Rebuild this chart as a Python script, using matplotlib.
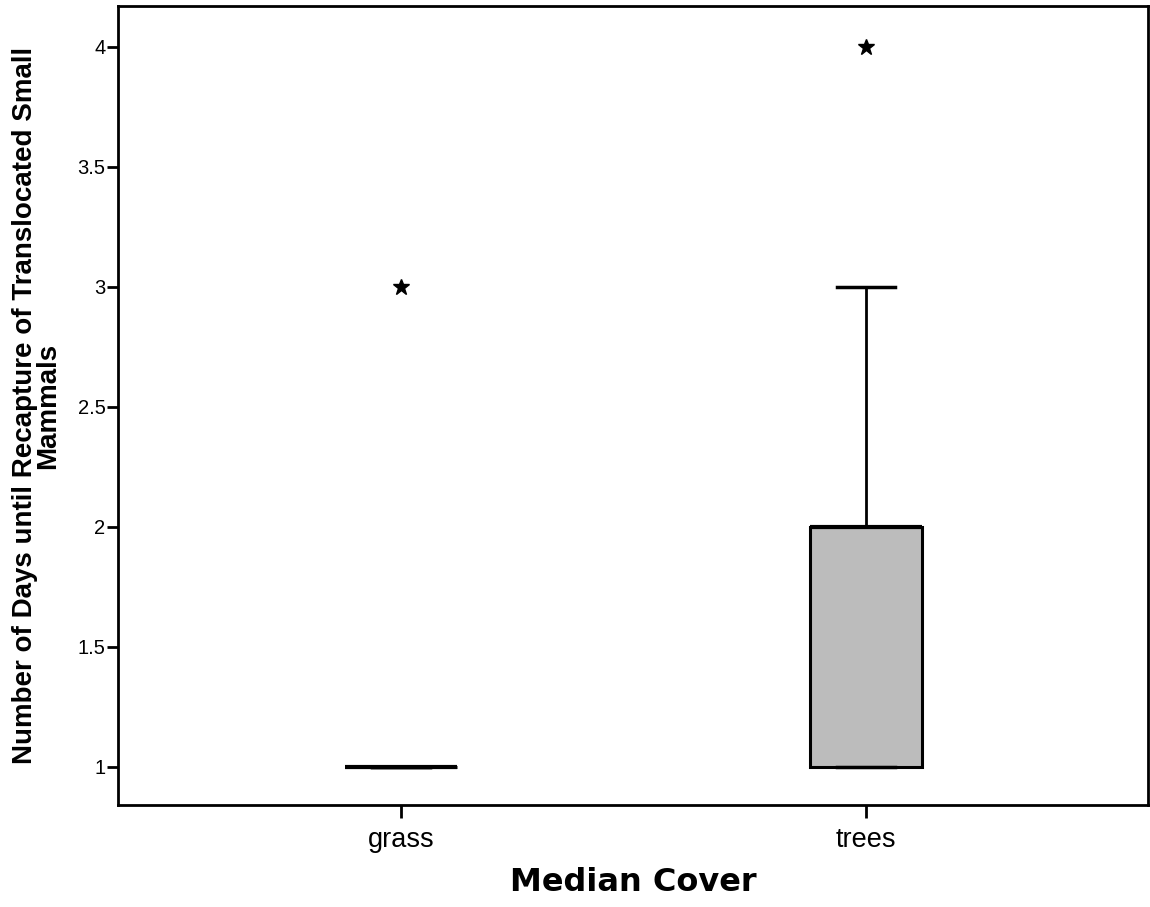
import matplotlib
matplotlib.use("Agg")
import matplotlib.pyplot as plt

categories = ["grass", "trees"]
q1 = [1.0, 1.0]
median = [1.0, 2.0]
q3 = [1.0, 2.0]
whisker_low = [1.0, 1.0]
whisker_high = [1.0, 3.0]
outliers = [[3.0], [4.0]]

plt.rcParams['font.family'] = ['Liberation Sans', 'DejaVu Sans']

fig = plt.figure(figsize=(11.5, 9.07), dpi=100)
ax = fig.add_axes([118/1150, (907-805)/907, (1148-118)/1150, (805-6)/907])

stats = []
for i, c in enumerate(categories):
    stats.append(dict(label=c, q1=q1[i], med=median[i], q3=q3[i],
                      whislo=whisker_low[i], whishi=whisker_high[i],
                      fliers=outliers[i]))

ax.bxp(stats, positions=range(len(categories)), widths=0.24, patch_artist=True,
       showcaps=True,
       boxprops=dict(facecolor='#bcbcbc', edgecolor='black', linewidth=2.2),
       medianprops=dict(color='black', linewidth=3),
       whiskerprops=dict(color='black', linewidth=2),
       capprops=dict(color='black', linewidth=2.5),
       capwidths=0.125,
       flierprops=dict(marker='*', markerfacecolor='black', markeredgecolor='black',
                       markersize=12, linestyle='none'))

ax.set_xlim(-0.609, 1.606)
ax.set_ylim(0.84, 4.17)
ax.set_yticks([1, 1.5, 2, 2.5, 3, 3.5, 4])
ax.set_yticklabels(['1', '1.5', '2', '2.5', '3', '3.5', '4'])
ax.set_xticks(range(len(categories)))
ax.set_xticklabels(categories)

for s in ax.spines.values():
    s.set_linewidth(2)
ax.tick_params(axis='y', labelsize=14.5, width=2, length=8, direction='out', pad=1)
ax.tick_params(axis='x', labelsize=19.5, width=2, length=9, direction='out', pad=7)

ax.set_xlabel('Median Cover', fontsize=23, fontweight='bold', labelpad=10,
              family=['DejaVu Sans'])
ax.set_ylabel('Number of Days until Recapture of Translocated Small\nMammals',
              fontsize=20, fontweight='bold', labelpad=12, linespacing=0.85)

fig.savefig('out.png', dpi=100)
